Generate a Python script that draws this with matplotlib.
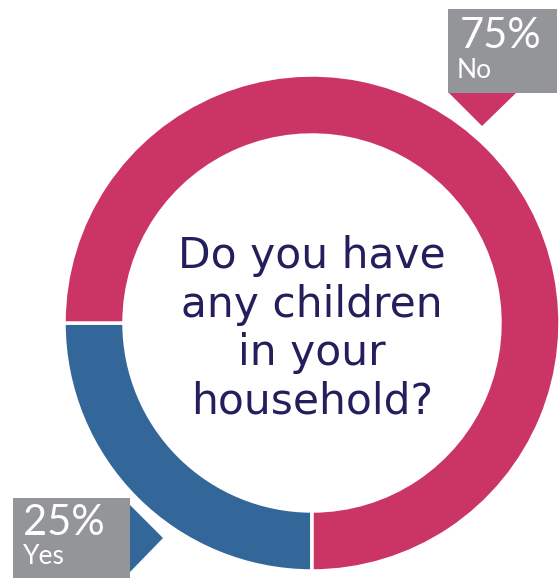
import matplotlib
matplotlib.use("Agg")
import matplotlib.pyplot as plt
from matplotlib.patches import Rectangle, Polygon

# Data
categories = ["Yes", "No"]
values = [25, 75]
pct_labels = ["25%", "75%"]
colors = ["#336699", "#CB3566"]
question = "Do you have\nany children\nin your\nhousehold?"

W, H = 560, 578
fig = plt.figure(figsize=(W / 100, H / 100), dpi=100)
ax = fig.add_axes([0, 0, 1, 1])
ax.set_xlim(0, W)
ax.set_ylim(0, H)
ax.set_aspect("equal")
ax.axis("off")

def sy(y):
    return H - y

cx, cy = 312, sy(323)
R = 248
ring = 60

ax.pie(values, colors=colors, startangle=180, counterclock=True,
       center=(cx, cy), radius=R, frame=True,
       wedgeprops=dict(width=ring, edgecolor="white", linewidth=2.5))
ax.set_xlim(0, W)
ax.set_ylim(0, H)
ax.axis("off")

ax.text(cx, sy(329), question, ha="center", va="center", fontsize=30.5,
        color="#231F5C", family="DejaVu Sans", linespacing=1.2)

grey = "#939598"
# No label box (top right)
ax.add_patch(Rectangle((448, sy(93)), 109, 84, facecolor=grey, edgecolor="none"))
ax.add_patch(Polygon([(449, sy(93)), (516, sy(93)), (482, sy(126))],
                     closed=True, facecolor=colors[1], edgecolor="none"))
ax.text(460, sy(36), pct_labels[1], ha="left", va="center", fontsize=30,
        color="white", family="Lato")
ax.text(457, sy(71), categories[1], ha="left", va="center", fontsize=19,
        color="white", family="Lato")

# Yes label box (bottom left)
ax.add_patch(Rectangle((13, 0), 117, sy(498), facecolor=grey, edgecolor="none"))
ax.add_patch(Polygon([(130, sy(505)), (163, sy(538)), (130, sy(572))],
                     closed=True, facecolor=colors[0], edgecolor="none"))
ax.text(23, sy(523), pct_labels[0], ha="left", va="center", fontsize=30,
        color="white", family="Lato")
ax.text(23, sy(556), categories[0], ha="left", va="center", fontsize=19,
        color="white", family="Lato")

fig.savefig("out.png", dpi=100)
